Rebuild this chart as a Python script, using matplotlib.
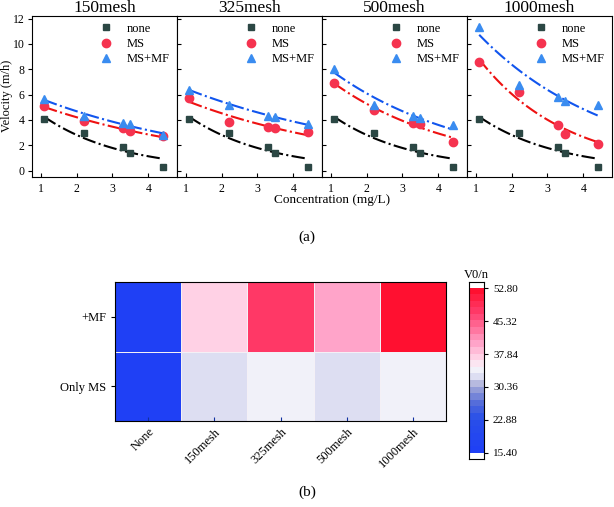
import numpy as np
import matplotlib
matplotlib.use("Agg")
from matplotlib import pyplot as plt
from matplotlib.colors import LinearSegmentedColormap, BoundaryNorm

plt.rcParams['font.family'] = ['Liberation Serif', 'DejaVu Serif']
plt.rcParams['mathtext.fontset'] = 'stix'

# Data (a)
conc = [1.1, 2.2, 3.3, 3.5, 4.4]
meshes = ['150mesh', '325mesh', '500mesh', '1000mesh']
v_none = [4.05, 3.0, 1.83, 1.39, 0.31]
v_ms = {
    '150mesh': [5.1, 3.9, 3.35, 3.1, 2.7],
    '325mesh': [5.7, 3.85, 3.45, 3.4, 3.05],
    '500mesh': [6.9, 4.8, 3.79, 3.69, 2.27],
    '1000mesh': [8.56, 6.19, 3.6, 2.89, 2.11],
}
v_msmf = {
    '150mesh': [5.65, 4.3, 3.75, 3.65, 2.85],
    '325mesh': [6.4, 5.2, 4.35, 4.25, 3.65],
    '500mesh': [8.04, 5.18, 4.33, 4.15, 3.58],
    '1000mesh': [11.3, 6.78, 5.85, 5.5, 5.15],
}

# Data (b)
hm_cols = ['None', '150mesh', '325mesh', '500mesh', '1000mesh']
hm_rows = ['Only MS', '+MF']
hm_only_ms = [15.4, 32.2, 34.1, 32.2, 34.1]
hm_mf = [15.4, 36.9, 47.2, 40.8, 52.8]
cb_ticks = [15.40, 22.88, 30.36, 37.84, 45.32, 52.80]


def exp_fit(x, y):
    # least squares fit of y = a*exp(b*x)
    x = np.asarray(x); y = np.asarray(y)
    best = None
    for b in np.linspace(-1.5, 0.5, 2001):
        e = np.exp(b * x)
        a = np.sum(y * e) / np.sum(e * e)
        err = np.sum((y - a * e) ** 2)
        if best is None or err < best[0]:
            best = (err, a, b)
    return best[1], best[2]


fig = plt.figure(figsize=(6.14, 5.07), dpi=100)

left0 = 32 / 614
w = 580 / 614 / 4
bot = 1 - 177 / 507
h = (177 - 16) / 507
xx = np.linspace(min(conc), max(conc), 100)

for i, m in enumerate(meshes):
    ax = fig.add_axes([left0 + i * w, bot, w, h])
    series = [
        (v_none, 's', '#2b4744', 'k', 'none', 5),
        (v_ms[m], 'o', '#f5334f', '#ee1111', 'MS', 6),
        (v_msmf[m], '^', '#3a8cf0', '#1155ee', 'MS+MF', 6),
    ]
    for y, mk, mc, lc, lab, ms in series:
        a, b = exp_fit(conc, y)
        ax.plot(xx, a * np.exp(b * xx), linestyle='-.', color=lc, lw=1.5)
        ax.plot(conc, y, mk, color=mc, ms=ms, lw=0, label=lab)
    ax.set_xlim(0.76, 4.8)
    ax.set_ylim(-0.5, 12.2)
    ax.set_xticks([1, 2, 3, 4])
    ax.set_yticks([0, 2, 4, 6, 8, 10, 12])
    ax.tick_params(axis='both', labelsize=8.5, direction='in', length=3)
    ax.tick_params(axis='x', pad=4)
    if i == 0:
        ax.tick_params(axis='y', direction='out', pad=2.5)
    else:
        ax.tick_params(axis='y', labelleft=False)
    ax.set_title(m, fontsize=12.5, pad=0)
    ax.legend(loc='upper right', frameon=False, fontsize=9,
              handletextpad=0.7, labelspacing=0.25, borderaxespad=0.15)

fig.text(7 / 614, 1 - 96 / 507, 'Velocity (m/h)', rotation=90, ha='center', va='center', fontsize=9)
fig.text(332 / 614, 1 - 200 / 507, 'Concentration (mg/L)', ha='center', va='center', fontsize=9.5)
fig.text(0.5, 1 - 237 / 507, '(a)', ha='center', va='center', fontsize=11)

# heatmap
cmap = LinearSegmentedColormap.from_list('vc', [
    (0.0, '#1f40f5'), (0.2, '#2a50e8'), (0.3, '#5a70d8'), (0.4, '#a8acd8'),
    (0.46, '#e2e3f4'), (0.51, '#f6f5fa'), (0.57, '#ffd6e8'), (0.66, '#ffa8cc'),
    (0.85, '#ff4070'), (1.0, '#ff1030')])
levels = np.linspace(15.4, 52.8, 26)
norm = BoundaryNorm(levels, cmap.N)

hax = fig.add_axes([115 / 614, 1 - 421 / 507, (446 - 115) / 614, (421 - 282) / 507])
z = np.array([hm_only_ms, hm_mf])
hax.pcolormesh(z, cmap=cmap, norm=norm, edgecolors='#f4f0f6', linewidth=0.6)
hax.set_xticks(np.arange(len(hm_cols)) + 0.5)
hax.set_xticklabels(hm_cols, rotation=45, ha='right', rotation_mode='anchor', fontsize=9)
hax.set_yticks(np.arange(len(hm_rows)) + 0.5)
hax.set_yticklabels(hm_rows, fontsize=9)
hax.tick_params(axis='x', direction='in', length=3, color='#1030a0')
hax.tick_params(axis='y', direction='out', length=3)

# colorbar
cax = fig.add_axes([469 / 614, 1 - 459 / 507, 15 / 614, (459 - 282) / 507])
cb_vals = np.linspace(15.4, 52.8, 200)
cax.pcolormesh([0, 1], cb_vals, np.column_stack([cb_vals[:-1]]), cmap=cmap, norm=norm)
cax.set_ylim(14.0, 54.2)
cax.set_xlim(0, 1)
cax.set_xticks([])
cax.yaxis.tick_right()
cax.set_yticks(cb_ticks)
cax.set_yticklabels(['%.2f' % t for t in cb_ticks], fontsize=8)
cax.tick_params(axis='y', direction='out', length=3)
cax.set_title('V0/n', fontsize=9, pad=3)

fig.text(0.5, 1 - 492 / 507, '(b)', ha='center', va='center', fontsize=11)

fig.savefig('out.png', dpi=100)
